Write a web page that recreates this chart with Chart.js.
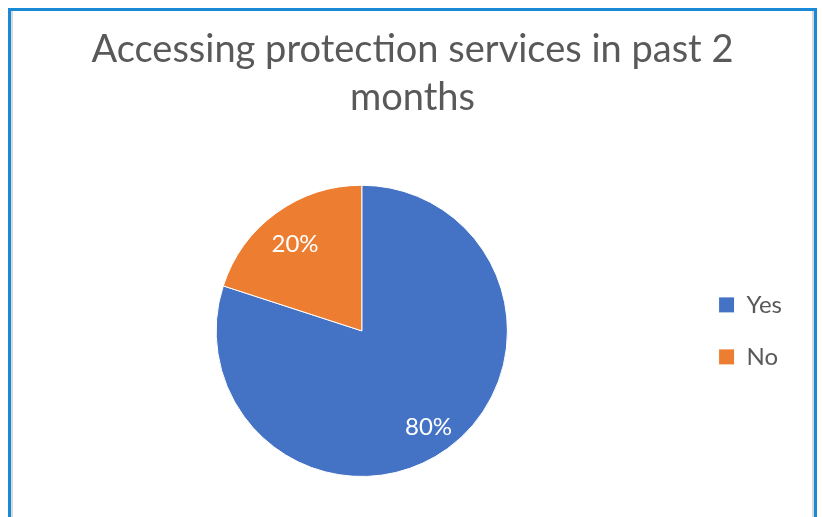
<!DOCTYPE html>
<html>
<head>
<meta charset="utf-8">
<script src="https://cdn.jsdelivr.net/npm/chart.js@4/dist/chart.umd.min.js"></script>
<style>
  html, body { margin: 0; padding: 0; background: #fff; overflow: hidden; }
  /* blue frame round the chart, bottom edge runs off the page */
  .frame {
    position: absolute; left: 8px; top: 8px; width: 809px; height: 600px;
    box-sizing: border-box; border: 3px solid #1a8ad6;
    box-shadow: inset 2px 0 0 #d9d9d9, inset -2px 0 0 #d9d9d9;
  }
  .wrap { position: absolute; left: 0; top: 0; width: 822px; height: 517px; }
</style>
</head>
<body>
<div class="frame"></div>
<div class="wrap"><canvas id="chart"></canvas></div>
<script>
// 数据
const categories = ['Yes', 'No'];
const shares = [80, 20];
const sliceColors = ['#4472C4', '#ED7D31'];
const titleLines = ['Accessing protection services in past 2', 'months'];

const FONT = 'Lato, "Open Sans", sans-serif';
const LABEL_SIZE = 24;

// 在扇区内画百分比标签
const sliceLabels = {
  id: 'sliceLabels',
  afterDatasetsDraw(chart) {
    const { ctx } = chart;
    const meta = chart.getDatasetMeta(0);
    const total = shares.reduce((a, b) => a + b, 0);
    ctx.save();
    ctx.font = LABEL_SIZE + 'px ' + FONT;
    ctx.fillStyle = '#ffffff';
    ctx.textAlign = 'center';
    ctx.textBaseline = 'alphabetic';
    meta.data.forEach((arc, i) => {
      const { x, y, startAngle, endAngle, outerRadius } = arc.getProps(['x', 'y', 'startAngle', 'endAngle', 'outerRadius'], true);
      const mid = (startAngle + endAngle) / 2;
      const r = outerRadius * 0.78;
      const pct = Math.round(shares[i] / total * 100) + '%';
      ctx.fillText(pct, x + Math.cos(mid) * r, y + Math.sin(mid) * r + LABEL_SIZE * 0.53);
    });
    ctx.restore();
  }
};

const chart = new Chart(document.getElementById('chart'), {
  type: 'pie',
  data: {
    labels: categories,
    datasets: [{
      data: shares,
      backgroundColor: sliceColors,
      borderColor: '#ffffff',
      borderWidth: 1,
    }],
  },
  options: {
    responsive: true,
    maintainAspectRatio: false,
    animation: false,
    layout: {
      padding: { left: 33, right: 30, top: 0, bottom: 40 },
    },
    plugins: {
      title: {
        display: true,
        text: titleLines,
        color: '#595959',
        font: { family: FONT, size: 38, weight: 'normal', lineHeight: 1.26 },
        padding: { top: 26, bottom: 63 },
      },
      legend: {
        position: 'right',
        fullSize: false,
        labels: {
          color: '#595959',
          font: { family: FONT, size: 24 },
          boxWidth: 16,
          boxHeight: 16,
          padding: 28,
        },
      },
      tooltip: { enabled: false },
    },
  },
  plugins: [sliceLabels],
});
</script>
</body>
</html>
